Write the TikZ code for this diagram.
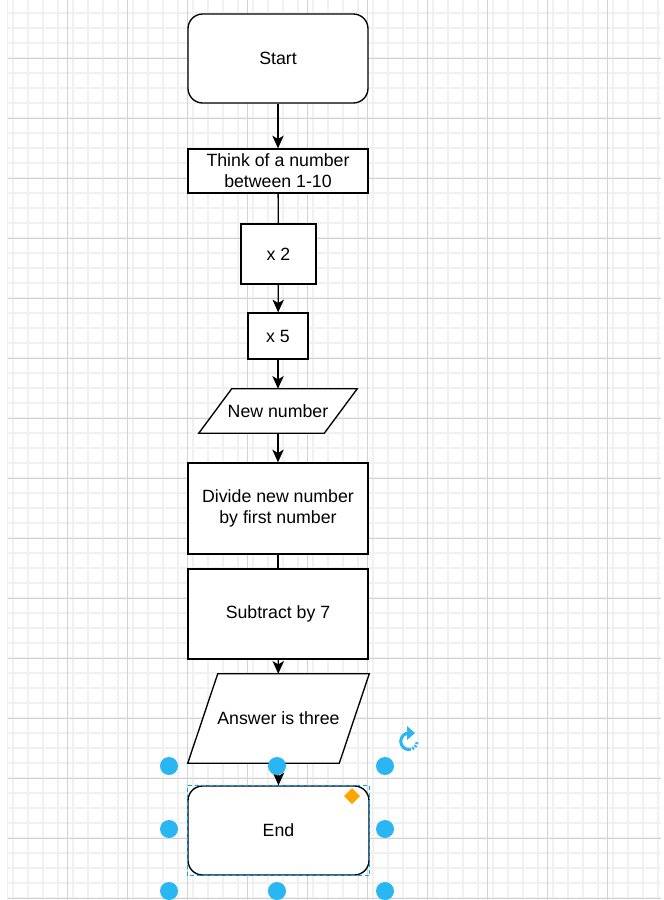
\documentclass[tikz,border=0pt]{standalone}
\usepackage{fontspec}
\setmainfont{Liberation Sans}
\usetikzlibrary{arrows.meta, positioning}

\definecolor{gridminor}{HTML}{F1F1F1}
\definecolor{gridmajor}{HTML}{D2D2D2}
\definecolor{handleblue}{HTML}{29B6F2}
\definecolor{selblue}{HTML}{00A8FF}
\definecolor{handleorange}{HTML}{FFA500}

\pgfdeclarelayer{grid}
\pgfdeclarelayer{shapes}
\pgfsetlayers{grid,shapes,main}

\tikzset{
  box/.style={draw, rectangle, line width=1pt, fill=white, align=center, inner sep=0pt},
  term/.style={box, rounded corners=11pt, minimum width=135pt, minimum height=66.75pt},
  io/.style={rectangle, align=center, inner sep=0pt},
  flow/.style={line width=1pt, -{Stealth[length=9.5pt, width=8.5pt, inset=2.5pt]}},
  link/.style={line width=1pt},
  handle/.style={fill=handleblue, draw=none},
}

% parallelogram behind an io node: name, skew
\newcommand\slantbox[2]{%
  \begin{pgfonlayer}{shapes}
    \draw[line width=1pt, fill=white] (#1.south west) -- ([xshift=#2]#1.north west)
      -- (#1.north east) -- ([xshift=-#2]#1.south east) -- cycle;
  \end{pgfonlayer}}

\begin{document}
\begin{tikzpicture}[x=0.75pt, y=-0.75pt, font=\fontsize{13.3pt}{15.8pt}\selectfont]
  \useasboundingbox (0,0) rectangle (664,900);
  % grid background
  \begin{pgfonlayer}{grid}
    \fill[white] (0,0) rectangle (664,900);
    \foreach \gx in {13,28,...,658} \draw[gridminor, line width=1.1pt] (\gx,0) -- (\gx,900);
    \foreach \gy in {13,28,...,898} \draw[gridminor, line width=1.1pt] (8,\gy) -- (661,\gy);
    \foreach \gx in {67,127,...,607} \draw[gridmajor, line width=0.75pt] (\gx,0) -- (\gx,900);
    \foreach \gy in {58,118,...,898} \draw[gridmajor, line width=0.75pt] (8,\gy) -- (661,\gy);
    \draw[gridminor, line width=0.75pt] (7,0) -- (7,900);
  \end{pgfonlayer}

  % flowchart
  \node[term] (start) at (278,58.5) {Start};
  \node[box, minimum width=135pt, minimum height=33pt] (think) at (278,171) {Think of a number\\between 1-10};
  \node[box, minimum width=56.25pt, minimum height=45pt] (times2) at (278.5,254) {x 2};
  \node[box, minimum width=45pt, minimum height=34.5pt] (times5) at (278,336) {x 5};
  \node[io, minimum width=118.5pt, minimum height=33pt] (newnum) at (278,411) {New number};
  \slantbox{newnum}{24.75pt}
  \node[box, minimum width=135pt, minimum height=68.25pt] (divide) at (278,508.5) {Divide new number\\by first number};
  \node[box, minimum width=135pt, minimum height=67.5pt] (subtract) at (278,614) {Subtract by 7};
  \node[io, minimum width=135.75pt, minimum height=66.75pt] (answer) at (278.5,718.5) {Answer is three};
  \slantbox{answer}{22.5pt}
  \node[term, minimum width=135.75pt] (finish) at (278.5,830.5) {End};

  \draw[flow] (start) -- (think);
  \draw[link] (think) -- (times2);
  \draw[flow] (times2) -- (times5);
  \draw[flow] (times5) -- (newnum);
  \draw[flow] (newnum) -- (divide);
  \draw[link] (divide) -- (subtract);
  \draw[flow] (subtract) -- (answer);
  \draw[flow] (answer.south) -- (finish.north);

  % selection of the End shape
  \draw[selblue, line width=1.2pt, dash pattern=on 3pt off 2.25pt] (finish.south west) rectangle (finish.north east);
  \foreach \hx/\hy in {169/766, 277/766, 385/766, 169/829, 385/829, 169/891, 277/891, 385/891}
    \fill[handle] (\hx,\hy) circle (6.75pt);
  \fill[handleorange] (352,788) -- (360,796) -- (352,804) -- (344,796) -- cycle;
  \draw[handleblue, line width=2.3pt] (409,733) arc[start angle=90, end angle=270, radius=6.2pt];
  \draw[handleblue, line width=2.3pt, dash pattern=on 1.4pt off 1.1pt] (409,749.5) arc[start angle=270, end angle=355, radius=6.2pt];
  \fill[handleblue] (407,726) -- (415,733) -- (407,740) -- cycle;
\end{tikzpicture}
\end{document}
